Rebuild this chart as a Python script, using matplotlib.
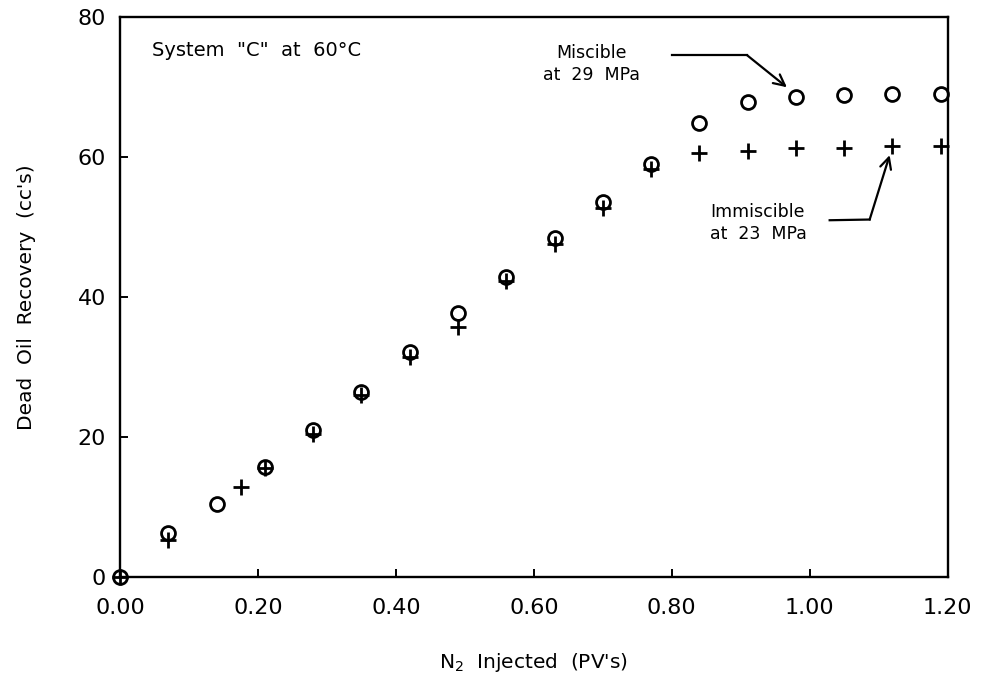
import matplotlib
matplotlib.use("Agg")
import matplotlib.pyplot as plt

### DATA ###
# Miscible displacement at 29 MPa (open circles)
misc_x = [0.0, 0.07, 0.14, 0.21, 0.28, 0.35, 0.42, 0.49, 0.56, 0.63, 0.70, 0.77,
          0.84, 0.91, 0.98, 1.05, 1.12, 1.19]
misc_y = [0.0, 6.3, 10.5, 15.7, 21.0, 26.4, 32.1, 37.7, 42.9, 48.4, 53.6, 59.1,
          64.9, 67.9, 68.6, 68.9, 69.1, 69.1]

# Immiscible displacement at 23 MPa (crosses)
immisc_x = [0.0, 0.07, 0.175, 0.21, 0.28, 0.35, 0.42, 0.49, 0.56, 0.63, 0.70, 0.77,
            0.84, 0.91, 0.98, 1.05, 1.12, 1.19]
immisc_y = [0.0, 5.3, 12.9, 15.6, 20.5, 26.0, 31.5, 35.7, 42.3, 47.6, 52.8, 58.3,
            60.6, 60.9, 61.3, 61.3, 61.6, 61.6]

x_ticks = [0.0, 0.2, 0.4, 0.6, 0.8, 1.0, 1.2]
x_tick_labels = ["0.00", "0.20", "0.40", "0.60", "0.80", "1.00", "1.20"]
y_ticks = [0, 20, 40, 60, 80]

### FIGURE ###
plt.rcParams['font.family'] = ['DejaVu Sans']
fig = plt.figure(figsize=(9.84, 6.92), dpi=100)
ax = fig.add_axes([0.122, 0.166, 0.841, 0.809])

ax.plot(misc_x, misc_y, linestyle='none', marker='o', markersize=10,
        markerfacecolor='none', markeredgecolor='black', markeredgewidth=2.0,
        clip_on=False)
ax.plot(immisc_x, immisc_y, linestyle='none', marker='+', markersize=11,
        color='black', markeredgewidth=2.0, clip_on=False)

ax.set_xlim(0, 1.2)
ax.set_ylim(0, 80)
ax.set_xticks(x_ticks)
ax.set_xticklabels(x_tick_labels)
ax.set_yticks(y_ticks)

for side in ['left', 'right', 'top', 'bottom']:
    ax.spines[side].set_linewidth(1.7)

ax.tick_params(axis='both', direction='in', length=6, width=1.4,
               labelsize=16, top=False, right=False)
ax.tick_params(axis='x', pad=15)
ax.tick_params(axis='y', pad=10)

ax.set_xlabel(r"N$_2$  Injected  (PV's)", fontsize=14.5, labelpad=24)
ax.set_ylabel("Dead  Oil  Recovery  (cc's)", fontsize=14.5, labelpad=30)

### ANNOTATIONS ###
ax.text(0.046, 75.3, "System  \"C\"  at  60°C", fontsize=14, va='center')

ax.text(0.683, 73.3, "Miscible\nat  29  MPa", fontsize=12.5, ha='center',
        va='center', linespacing=1.25)
ax.plot([0.80, 0.909], [74.6, 74.6], color='black', lw=1.6)
ax.annotate("", xy=(0.967, 70.0), xytext=(0.909, 74.6),
            arrowprops=dict(arrowstyle='->', color='black', lw=1.6,
                            mutation_scale=20, shrinkA=0, shrinkB=0))

ax.text(0.925, 50.6, "Immiscible\nat  23  MPa", fontsize=12.5, ha='center',
        va='center', linespacing=1.25)
ax.plot([1.029, 1.087], [51.0, 51.1], color='black', lw=1.6)
ax.annotate("", xy=(1.116, 60.3), xytext=(1.087, 51.1),
            arrowprops=dict(arrowstyle='->', color='black', lw=1.6,
                            mutation_scale=20, shrinkA=0, shrinkB=0))

fig.savefig('out.png', dpi=100)
